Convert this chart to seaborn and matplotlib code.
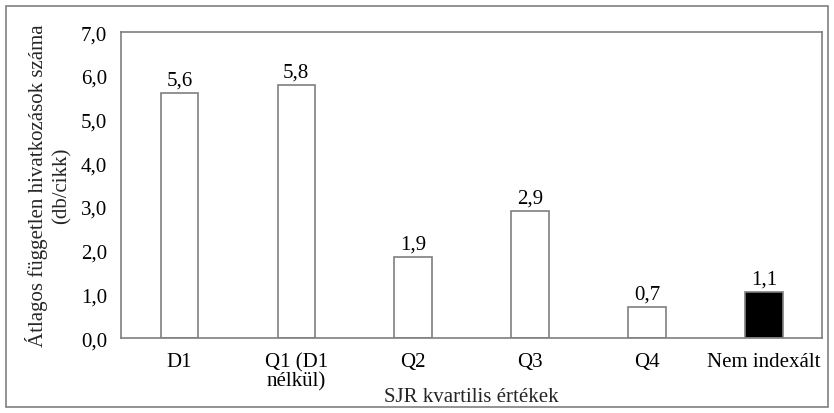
import pandas as pd
import numpy as np
import seaborn as sns
import matplotlib.pyplot as plt
from matplotlib.patches import Rectangle

categories = ['D1', 'Q1 (D1\nnélkül)', 'Q2', 'Q3', 'Q4', 'Nem indexált']
values = [5.6, 5.8, 1.85, 2.9, 0.7, 1.05]
labels = ['5,6', '5,8', '1,9', '2,9', '0,7', '1,1']
colors = ['white', 'white', 'white', 'white', 'white', 'black']

df = pd.DataFrame({'cat': categories, 'val': values})

sns.set_theme(style='white')
plt.rcParams['font.family'] = ['Liberation Serif', 'DejaVu Serif']
FS = 15

fig = plt.figure(figsize=(8.34, 4.14), dpi=100)
ax = fig.add_axes([0.145, 0.181, 0.841, 0.739])

sns.barplot(data=df, x='cat', y='val', hue='cat', palette=colors, legend=False,
            width=0.32, edgecolor='#7f7f7f', linewidth=1.2, ax=ax)

for i, (v, t) in enumerate(zip(values, labels)):
    ax.text(i, v + 0.08, t, ha='center', va='bottom', fontsize=FS, color='black')

ax.set_ylim(0, 7)
ax.set_yticks(np.arange(0, 7.1, 1))
ax.set_yticklabels([f'{y:.1f}'.replace('.', ',') for y in np.arange(0, 7.1, 1)])
ax.tick_params(axis='y', length=0, labelsize=FS, colors='black', pad=10)
ax.tick_params(axis='x', length=0, labelsize=FS, colors='black', pad=10)
for lbl in ax.get_xticklabels():
    lbl.set_linespacing(1.0)
ax.set_xlabel('SJR kvartilis értékek', fontsize=FS, va='center')
ax.xaxis.set_label_coords(0.5, -0.19)
ax.set_ylabel('Átlagos független hivatkozások száma\n(db/cikk)', fontsize=FS,
              linespacing=1.3, va='center')
ax.yaxis.set_label_coords(-0.103, 0.5)
for s in ax.spines.values():
    s.set_color('#7f7f7f')
    s.set_linewidth(1.2)

fig.patches.append(Rectangle((0.007, 0.015), 0.986, 0.967, transform=fig.transFigure,
                             fill=False, edgecolor='#7f7f7f', linewidth=1.2))

plt.savefig('out.png', dpi=100)
